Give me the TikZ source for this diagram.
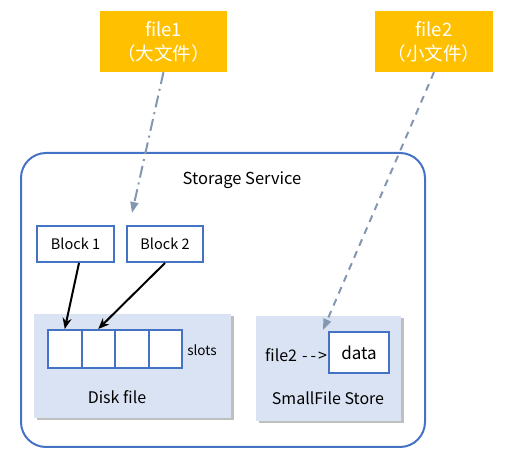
\documentclass[tikz,border=0pt]{standalone}
\usepackage{fontspec}
\setmainfont{Noto Sans CJK SC}
\usetikzlibrary{arrows.meta,shadows,calc}
\definecolor{orng}{HTML}{FFC000}
\definecolor{blu}{HTML}{4472C4}
\definecolor{pnl}{HTML}{DAE3F3}
\definecolor{arr}{HTML}{8497B0}
\tikzset{
  filebox/.style={fill=orng, text=white, minimum height=61pt, align=center, inner sep=0pt, font=\fontsize{18.5}{24}\selectfont},
  bluebox/.style={draw=blu, line width=2pt, fill=white, inner sep=0pt},
  panel/.style={fill=pnl, inner sep=0pt, drop shadow={shadow xshift=2.5pt, shadow yshift=-2.5pt, opacity=0.5}},
  lbl/.style={inner sep=0pt, font=\fontsize{14}{16}\selectfont},
  blackarrow/.style={line width=2pt, -{Stealth[length=11pt,width=9pt]}},
  grayarrow/.style={draw=arr, line width=2pt, -{Stealth[length=11pt,width=8pt,inset=0pt]}},
}
\begin{document}
\begin{tikzpicture}[x=1pt,y=-1pt]
\useasboundingbox (0,0) rectangle (523,462);
% outer container
\node[draw=blu, line width=2pt, rounded corners=25pt, minimum width=404pt, minimum height=294pt, inner sep=0pt] (storage) at (223,300) {};
\node[lbl, font=\fontsize{16.5}{18}\selectfont] (title) at (242,180) {Storage Service};
% file boxes
\node[filebox, minimum width=127pt] (f1) at (163.5,41.5) {file1\\（大文件）};
\node[filebox, minimum width=118pt] (f2) at (434,41.5) {file2\\（小文件）};
% blocks
\node[bluebox, minimum width=77pt, minimum height=36pt, font=\fontsize{14.5}{16}\selectfont] (b1) at (75.5,244) {Block 1};
\node[bluebox, minimum width=76pt, minimum height=36pt, font=\fontsize{14.5}{16}\selectfont] (b2) at (165,244) {Block 2};
% disk file panel
\node[panel, minimum width=197pt, minimum height=104pt] (disk) at (132.5,366) {};
\foreach \i/\x in {1/64.75,2/98.25,3/131.75,4/165.25}
  \node[bluebox, minimum width=33.5pt, minimum height=38pt] (s\i) at (\x,349) {};
\node[lbl, font=\fontsize{13.5}{15}\selectfont] (slotslbl) at (202,350) {slots};
\node[lbl, font=\fontsize{16}{18}\selectfont] (disklbl) at (117,397) {Disk file};
% small file store panel
\node[panel, minimum width=145pt, minimum height=105pt] (sf) at (328.5,368.5) {};
\node[lbl, font=\fontsize{16}{18}\selectfont, anchor=west] (ptr) at (265,355) {file2\hspace{5pt}-\hspace{3pt}-\hspace{2pt}>};
\node[bluebox, minimum width=60pt, minimum height=41pt, font=\fontsize{17}{19}\selectfont] (data) at (359,352.5) {data};
\node[lbl, font=\fontsize{16}{18}\selectfont] (sflbl) at (328,398) {SmallFile Store};
% connectors
\coordinate (f1end) at (132,213);
\draw[grayarrow, dash pattern=on 12pt off 5pt on 2pt off 5pt] (f1.south) -- (f1end);
\draw[grayarrow, dash pattern=on 7pt off 6pt] (f2.south) -- ($(data.north west)+(-5,-1)$);
\draw[blackarrow] ($(b1.south)+(3.5,0)$) -- (s1.north);
\draw[blackarrow] (b2.south) -- (s2.north);
\end{tikzpicture}
\end{document}
